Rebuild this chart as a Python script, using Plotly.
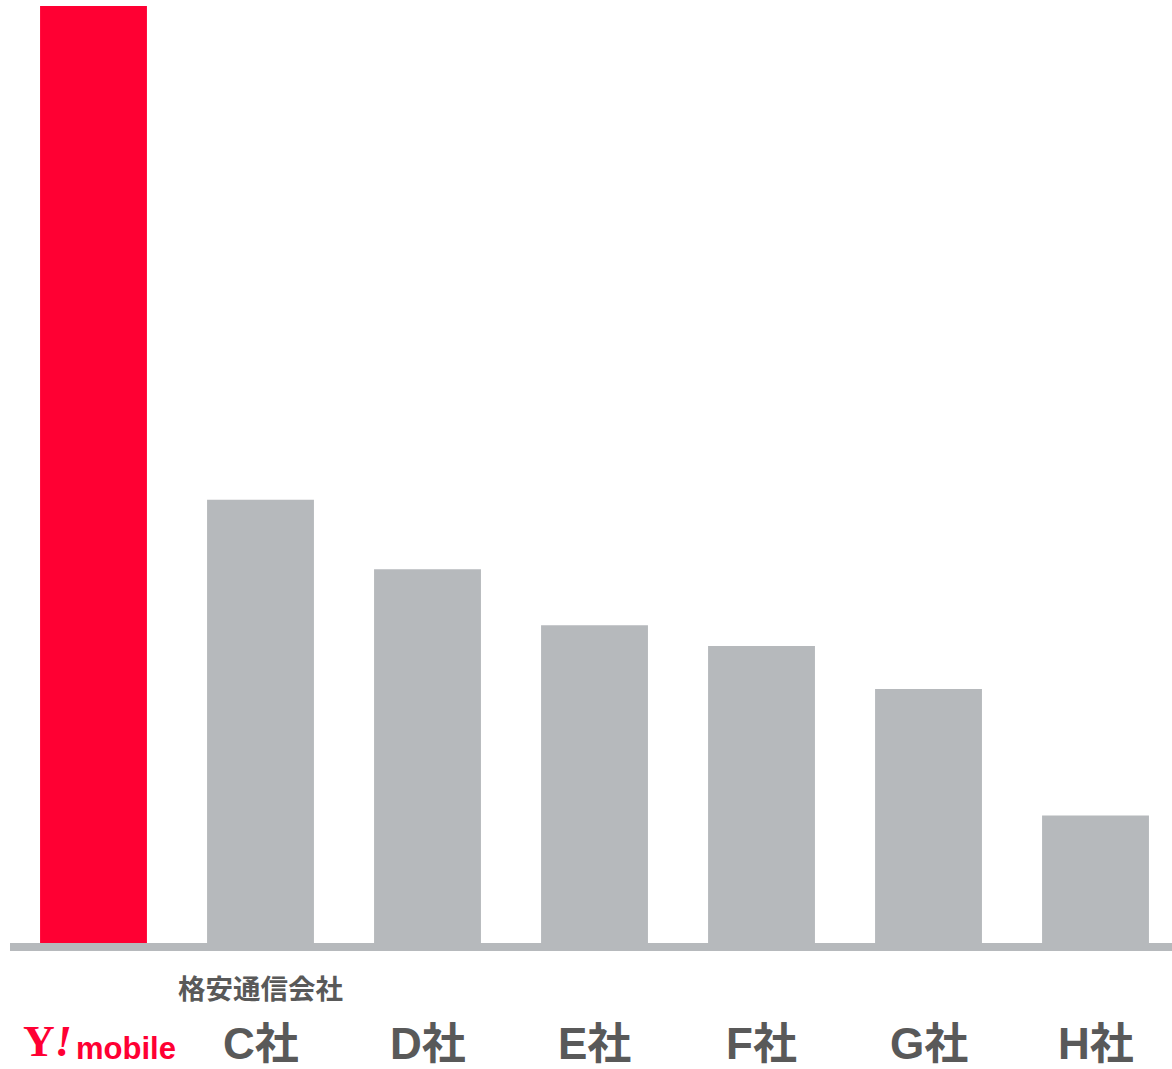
import plotly.graph_objects as go

categories = ["Y!mobile", "C社", "D社", "E社", "F社", "G社", "H社"]
values = [100, 47.3, 39.9, 33.9, 31.7, 27.1, 13.6]
group_label = "格安通信会社"

RED = "#FF0033"
GRAY = "#B6B9BC"
TEXT = "#595959"

colors = [RED] + [GRAY] * (len(categories) - 1)
xs = list(range(len(categories)))

fig = go.Figure()
fig.add_trace(go.Bar(x=xs, y=values, marker=dict(color=colors, line=dict(width=0)),
                     hoverinfo="skip"))

annotations = []
# brand logo label for first category
annotations.append(dict(x=xs[0], y=0, xref="x", yref="paper", yanchor="middle",
                        xanchor="right", xshift=-21, yshift=-98, showarrow=False,
                        height=36, borderpad=0,
                        text="<b>Y</b><b><i>!</i></b>",
                        font=dict(family="Liberation Serif, DejaVu Serif", size=44, color=RED)))
annotations.append(dict(x=xs[0], y=0, xref="x", yref="paper", yanchor="middle",
                        xanchor="left", xshift=-19, yshift=-105, showarrow=False,
                        height=30, borderpad=0,
                        text="<b>mobile</b>",
                        font=dict(family="Liberation Sans, Arial", size=31, color=RED)))
for xi, cat in zip(xs[1:], categories[1:]):
    annotations.append(dict(x=xi, y=0, xref="x", yref="paper", yanchor="middle",
                            yshift=-100, showarrow=False, height=42, borderpad=0,
                            text="<b>" + cat + "</b>",
                            font=dict(family="Liberation Sans, Noto Sans CJK JP", size=44, color=TEXT)))
annotations.append(dict(x=xs[1], y=0, xref="x", yref="paper", yanchor="middle",
                        yshift=-44, showarrow=False, text="<b>" + group_label + "</b>",
                        font=dict(family="Noto Sans CJK JP", size=27.5, color=TEXT)))

fig.update_layout(
    width=1172, height=1069,
    margin=dict(l=10, r=0, t=6, b=126),
    paper_bgcolor="white", plot_bgcolor="white",
    bargap=0.36, showlegend=False,
    xaxis=dict(range=[-0.5, 6.458], showgrid=False, zeroline=False, showticklabels=False,
               ticks="", showline=True, linecolor=GRAY, linewidth=8, fixedrange=True),
    yaxis=dict(range=[0, 100], visible=False, fixedrange=True),
    annotations=annotations,
)

fig.write_html("out.html", config={"displayModeBar": False},
               post_script="document.body.style.margin='0';")
